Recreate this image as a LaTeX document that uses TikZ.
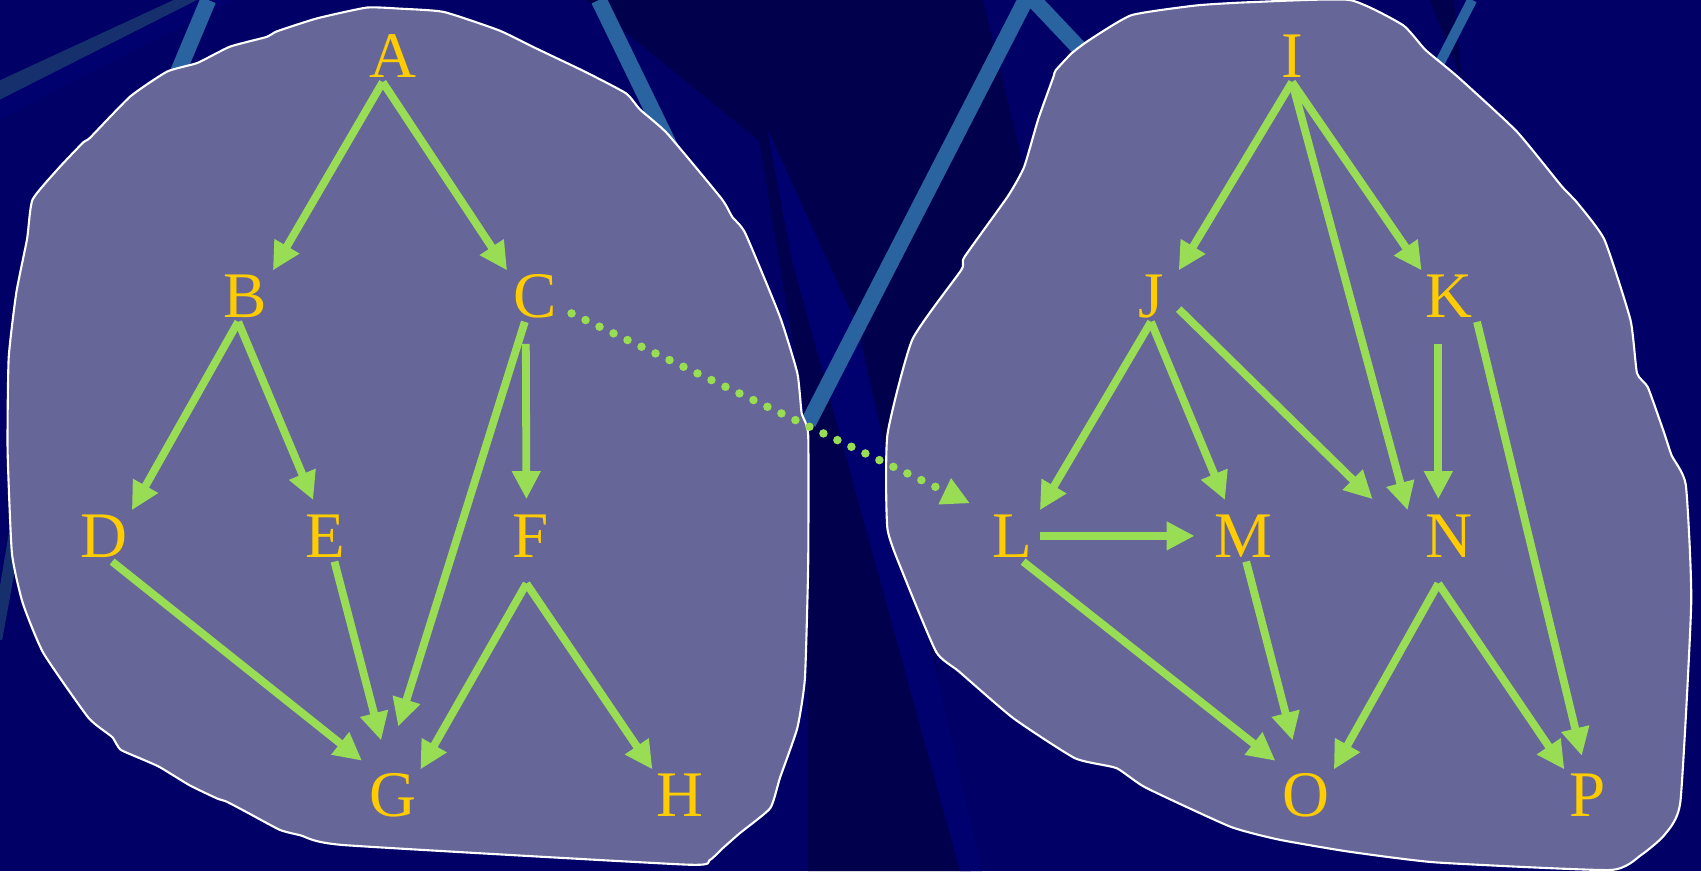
\documentclass[tikz,border=0pt]{standalone}
\usepackage{fontspec}
\newfontfamily\letterfont{Liberation Serif}
\usetikzlibrary{arrows.meta}
\definecolor{navybg}{HTML}{000066}
\definecolor{navydark}{HTML}{00004C}
\definecolor{navylight}{HTML}{00006E}
\definecolor{bandblue}{HTML}{16306E}
\definecolor{streakblue}{HTML}{2A64A0}
\definecolor{blobfill}{HTML}{666699}
\definecolor{edgegreen}{HTML}{99DD55}
\definecolor{lettergold}{HTML}{FFCC00}

\begin{document}
\begin{tikzpicture}[x=0.10848mm, y=-0.10848mm,
  vtx/.style={font=\letterfont\fontsize{18.5}{20}\selectfont, text=lettergold,
    inner sep=0pt, minimum width=5.4mm, minimum height=5mm, text height=4.3mm, text depth=0pt},
  link/.style={draw=edgegreen, line width=0.78mm, -{Triangle[length=2.8mm,width=2.7mm]}},
  dotlink/.style={draw=edgegreen, line width=0.85mm, line cap=round,
    dash pattern=on 0pt off 1.55mm, -{Triangle[length=2.8mm,width=2.7mm]}},
  blob/.style={fill=blobfill, draw=white, line width=0.6pt},
  streak/.style={draw=streakblue, line width=1.6mm}]
  \useasboundingbox (0,0) rectangle (1568,803);
  % background
  \fill[navybg] (0,0) rectangle (1568,803);
  \fill[navydark] (540,0) -- (906,0) -- (950,180) -- (830,420) -- (895,803)
    -- (745,803) -- (745,400) -- (700,130) -- cycle;
  \fill[navylight] (707,118) -- (730,240) -- (885,803) -- (905,803) -- (790,300)
    -- cycle;
  \fill[bandblue] (0,74) -- (160,0) -- (182,0) -- (0,92) -- cycle;
  \fill[navylight] (0,92) -- (182,0) -- (215,0) -- (0,110) -- cycle;
  \fill[navydark] (1318,0) -- (1340,0) -- (1348,75) -- cycle;
  \fill[bandblue] (10,480) -- (22,480) -- (2,590) -- (0,590) -- (0,540) -- cycle;
  \draw[streak] (192,0) -- (150,100);
  \draw[streak] (552,0) -- (620,140);
  \draw[streak] (745,390) -- (948,-5) -- (1000,50);
  \draw[streak, line width=1mm] (1357,0) -- (1322,68);

  % the two regions
  \path[blob] plot[smooth cycle, tension=0.3] coordinates {
    (338,7) (369,8) (409,11) (460,28) (495,45) (539,66) (577,86) (590,101)
    (615,123) (665,183) (675,200) (687,215) (719,292) (735,344) (739,381)
    (745,401) (745,520) (742,625) (735,671) (719,717) (710,745) (682,768)
    (665,783) (654,793) (632,797) (317,779) (277,770) (258,765) (228,749)
    (209,739) (200,736) (175,724) (147,707) (129,699) (111,691) (104,680)
    (99,676) (81,661) (40,602) (21,556) (11,510) (7,415) (8,330) (15,270)
    (25,220) (30,184) (55,154) (77,131) (83,127) (120,89) (154,66) (182,58)
    (212,43) (246,34) (255,29) (292,17)};
  \path[blob] plot[smooth cycle, tension=0.3] coordinates {
    (971,71) (973,65) (988,49) (1004,37) (1043,14) (1103,5) (1153,2) (1244,0)
    (1293,23) (1314,46) (1344,71) (1398,121) (1439,171) (1454,187) (1479,221)
    (1503,295) (1509,344) (1519,357) (1534,399) (1541,420) (1554,447)
    (1559,555) (1549,739) (1534,770) (1513,788) (1484,802) (1324,795)
    (1243,785) (1179,774) (1134,762) (1056,726) (1029,708) (991,699)
    (934,662) (884,619) (863,601) (833,530) (818,487) (818,401) (841,313)
    (886,249) (889,237) (929,181) (944,154) (957,110)};

  % letters
  \foreach \n/\x/\y in {A/362/52, B/226/273, C/493/273, D/96/494, E/300/494,
      F/489/494, G/362/733, H/627/733, I/1191/52, J/1061/273, K/1336/273,
      L/933/494, M/1146/494, N/1336/494, O/1204/733, P/1463/733}
    \node[vtx] (\n) at (\x,\y) {\n};

  % left graph
  \draw[link] ([xshift=-1mm]A.south) -- (B.north east);
  \draw[link] ([xshift=-1mm]A.south) -- (C.north west);
  \draw[link] ([xshift=-0.7mm]B.south) -- (D.north east);
  \draw[link, shorten >=1.1mm] ([xshift=-0.7mm]B.south) -- ([xshift=-0.8mm]E.north);
  \draw[link, shorten >=4.5mm] ([xshift=-1mm]C.south) -- ([xshift=-0.8mm]G.north);
  \draw[link, shorten >=1.1mm] ([xshift=-0.9mm,yshift=-2.2mm]C.south) -- ([xshift=-0.4mm]F.north);
  \draw[link, shorten >=1.4mm] ([xshift=0.8mm]D.south) -- ([xshift=0.8mm]G.north west);
  \draw[link, shorten >=3mm] ([xshift=0.9mm]E.south) -- ([xshift=-0.4mm]G.north);
  \draw[link] ([xshift=-0.4mm,yshift=-2.2mm]F.south) -- (G.north east);
  \draw[link] ([xshift=-0.4mm,yshift=-2.2mm]F.south) -- (H.north west);

  % link between the two
  \draw[dotlink, shorten <=1mm, shorten >=1.6mm] (C.-25) -- (L.north west);

  % right graph
  \draw[link] (I.south) -- (J.north east);
  \draw[link] (I.south) -- (K.north west);
  \draw[link] (I.south) -- ([xshift=-1.4mm]N.north west);
  \draw[link] (J.south) -- (L.north east);
  \draw[link, shorten >=1.1mm] (J.south) -- ([xshift=-1.4mm]M.north);
  \draw[link] (J.-25) -- ([xshift=-4.9mm,yshift=1.1mm]N.north west);
  \draw[link, shorten >=1.1mm] ([xshift=-1.1mm,yshift=-2.2mm]K.south) -- ([xshift=-1.1mm]N.north);
  \draw[link, shorten >=1.4mm] (K.south east) -- ([xshift=-0.2mm]P.north);
  \draw[link, shorten >=1.9mm] (L.east) -- (M.west);
  \draw[link, shorten >=1.4mm] ([xshift=1.1mm]L.south) -- ([xshift=0.8mm]O.north west);
  \draw[link, shorten >=3mm] ([xshift=0.3mm]M.south) -- ([xshift=-0.6mm]O.north);
  \draw[link] ([xshift=-1.1mm,yshift=-2.2mm]N.south) -- (O.north east);
  \draw[link] ([xshift=-1.1mm,yshift=-2.2mm]N.south) -- ([xshift=0.5mm]P.north west);
\end{tikzpicture}
\end{document}
